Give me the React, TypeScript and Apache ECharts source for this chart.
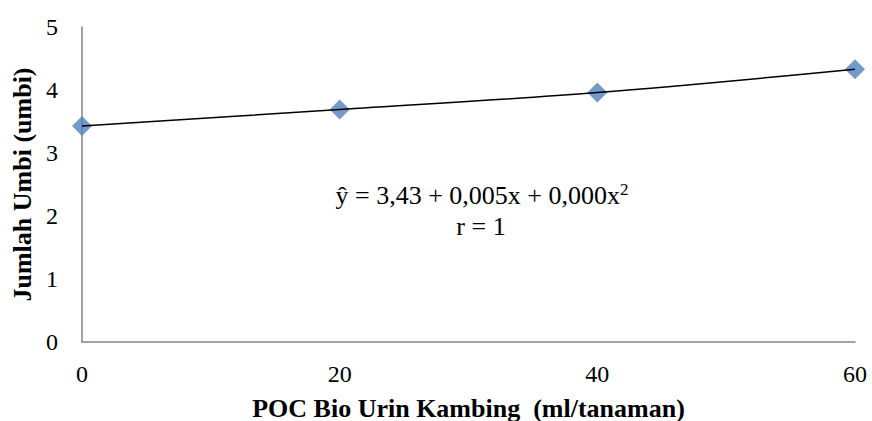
import React, { useEffect, useRef } from "react";
import * as echarts from "echarts";

const doses = [0, 20, 40, 60];
const tubers = [3.43, 3.69, 3.96, 4.33];
const xTicks = [0, 20, 40, 60];
const yTicks = [0, 1, 2, 3, 4, 5];
const xTitle = "POC Bio Urin Kambing  (ml/tanaman)";
const yTitle = "Jumlah Umbi (umbi)";
const eqLine = "ŷ = 3,43 + 0,005x + 0,000x";
const rLine = "r = 1";

const FONT = "'Liberation Serif', 'Times New Roman', serif";

export default function App() {
  const ref = useRef<HTMLDivElement>(null);
  useEffect(() => {
    if (!ref.current) return;
    const chart = echarts.init(ref.current, undefined, { renderer: "svg" });
    const pts = doses.map((d, i) => [d, tubers[i]]);
    chart.setOption({
      animation: false,
      backgroundColor: "#ffffff",
      grid: { left: 82, right: 17, top: 27, bottom: 79, outerBoundsMode: "none", containLabel: false },
      xAxis: {
        type: "value",
        min: xTicks[0],
        max: xTicks[xTicks.length - 1],
        interval: 20,
        name: xTitle,
        nameLocation: "middle",
        nameGap: 53,
        nameTextStyle: { fontFamily: FONT, fontWeight: "bold", fontSize: 26, color: "#000" },
        axisLine: { show: true, lineStyle: { color: "#868686", width: 1.5 } },
        axisTick: { show: false },
        splitLine: { show: false },
        axisLabel: { fontFamily: FONT, fontSize: 24, color: "#000", margin: 20 },
      },
      yAxis: {
        type: "value",
        min: yTicks[0],
        max: yTicks[yTicks.length - 1],
        interval: 1,
        name: yTitle,
        nameLocation: "middle",
        nameGap: 46,
        nameRotate: 90,
        nameTextStyle: { fontFamily: FONT, fontWeight: "bold", fontSize: 26, color: "#000" },
        axisLine: { show: true, lineStyle: { color: "#868686", width: 1.5 } },
        axisTick: { show: false },
        splitLine: { show: false },
        axisLabel: { fontFamily: FONT, fontSize: 24, color: "#000", margin: 24 },
      },
      series: [
        {
          type: "scatter",
          data: pts,
          symbol: "diamond",
          symbolSize: 20,
          itemStyle: { color: "#4F81BD" },
          z: 2,
        },
        {
          type: "line",
          data: pts,
          smooth: 0.35,
          showSymbol: false,
          symbol: "none",
          lineStyle: { color: "#000", width: 1.5 },
          z: 3,
        },
      ],
      graphic: [
        {
          type: "text",
          x: 482,
          y: 195,
          style: {
            text: "{m|" + eqLine + "}{s|2}",
            align: "center",
            verticalAlign: "middle",
            rich: {
              m: { fontFamily: FONT, fontSize: 26, fill: "#000", color: "#000" },
              s: { fontFamily: FONT, fontSize: 17, fill: "#000", color: "#000", verticalAlign: "top", padding: [0, 0, 12, 0] },
            },
          },
        },
        {
          type: "text",
          x: 481,
          y: 226,
          style: {
            text: rLine,
            align: "center",
            verticalAlign: "middle",
            fontFamily: FONT,
            fontSize: 26,
            fill: "#000",
          },
        },
      ],
    });
    return () => chart.dispose();
  }, []);
  return (
    <div
      ref={ref}
      style={{ position: "fixed", left: 0, top: 0, width: 872, height: 421, background: "#fff" }}
    />
  );
}
